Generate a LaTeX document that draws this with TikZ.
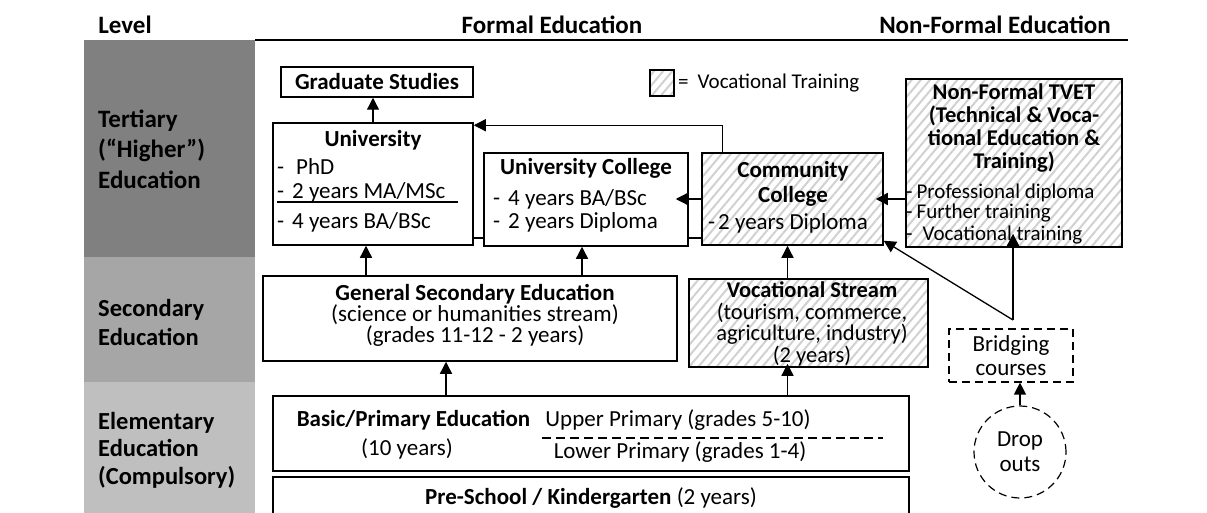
\documentclass[tikz,border=0pt]{standalone}
\usepackage{fontspec}
\setmainfont{Carlito}
\usetikzlibrary{arrows.meta,patterns.meta}

\begin{document}
\begin{tikzpicture}[x=1pt, y=-1pt,
        box/.style={draw, line width=1.5pt, fill=white, inner sep=0pt},
        voc/.style={draw, line width=1.5pt, inner sep=0pt, preaction={fill=white},
            pattern={Lines[angle=50, distance=7pt, line width=2pt]}, pattern color=black!18},
        dbox/.style={draw, line width=1.2pt, dash pattern=on 8pt off 5pt, inner sep=0pt},
        arr/.style={line width=1.3pt, -{Triangle[length=12pt, width=12pt]}},
        con/.style={line width=1.3pt},
        hdr/.style={font=\fontsize{25}{28}\selectfont\bfseries, inner sep=0pt},
        hd/.style={font=\fontsize{23}{25}\selectfont\bfseries, inner sep=0pt, align=center},
        txt/.style={font=\fontsize{23}{25}\selectfont, inner sep=0pt},
        sm/.style={font=\fontsize{21}{22}\selectfont, inner sep=0pt}]

        \useasboundingbox (0,0) rectangle (1207,513);
        \clip (0,0) rectangle (1207,513);

        % Header
        \node[hdr] (level) at (125,25) {Level};
        \node[hdr] (formal) at (552,25) {Formal Education};
        \node[hdr] (nonformal) at (995,25) {Non-Formal Education};
        \draw[line width=1.5pt] (255,40) -- (1128,40);

        % Level column
        \fill[black!50] (84,40) rectangle (255,257);
        \fill[black!35] (84,257) rectangle (255,382);
        \fill[black!25] (84,382) rectangle (255,513);
        \node[anchor=west, align=left, inner sep=0pt, font=\fontsize{25}{30.5}\selectfont\bfseries] (tertiary) at (98,149) {Tertiary\\(“Higher”)\\Education};
        \node[anchor=west, align=left, inner sep=0pt, font=\fontsize{24.5}{29}\selectfont\bfseries] (secondary) at (98,322) {Secondary\\Education};
        \node[anchor=west, align=left, inner sep=0pt, font=\fontsize{24.5}{27.5}\selectfont\bfseries] (elementary) at (98,450) {Elementary\\Education\\(Compulsory)};

        % Legend
        \node[voc, minimum width=24, minimum height=26] (legend) at (662,83) {};
        \node[sm, anchor=west] (legendtext) at (678,83) {=\hspace{9pt}Vocational Training};

        % Tertiary
        \node[box, hd, minimum width=192, minimum height=30] (grad) at (377,82) {Graduate Studies};

        \node[box, minimum width=200, minimum height=122] (univ) at (373,184) {};
        \node[hd] (univhead) at (373,140) {University};
        \node[txt, anchor=west] (phd) at (277,167) {-\hspace{12pt}PhD};
        \node[txt, anchor=west] (ma) at (277,192) {-\hspace{8pt}2 years MA/MSc};
        \node[txt, anchor=west] (ba) at (277,222) {-\hspace{8pt}4 years BA/BSc};
        \draw[line width=1.3pt] (277,202) -- (458,202);

        \node[box, minimum width=204, minimum height=93] (ucol) at (586,199.5) {};
        \node[hd] (ucolhead) at (586,168) {University College};
        \node[txt, anchor=west] (ucolba) at (493,199) {-\hspace{8pt}4 years BA/BSc};
        \node[txt, anchor=west] (ucoldip) at (493,222) {-\hspace{8pt}2 years Diploma};

        \node[voc, minimum width=181, minimum height=92] (cc) at (792.5,199) {};
        \node[hd] (cchead) at (793,183.5) {Community\\College};
        \node[txt] (ccdip) at (788,223) {-\hspace{3pt}2 years Diploma};

        \node[voc, minimum width=216, minimum height=168] (tvet) at (1014,163) {};
        \node[hd, font=\fontsize{22.5}{23}\selectfont\bfseries] (tvethead) at (1014,128.5) {Non-Formal TVET\\(Technical \& Voca-\\tional Education \&\\Training)};
        \node[sm, anchor=west] (prof) at (906,193) {-\hspace{4pt}Professional diploma};
        \node[sm, anchor=west] (further) at (906,213) {-\hspace{4pt}Further training};
        \node[sm, anchor=west] (vtrain) at (906,235) {-\hspace{10pt}Vocational training};

        % Secondary
        \node[box, minimum width=414, minimum height=85] (gse) at (470,318.5) {};
        \node[txt, align=center, font=\fontsize{23}{21}\selectfont] (gsetext) at (475,315) {{\bfseries General Secondary Education}\\(science or humanities stream)\\(grades 11-12 - 2 years)};

        \node[voc, minimum width=239, minimum height=88] (vs) at (808.5,323) {};
        \node[txt, align=center, font=\fontsize{22.5}{21.5}\selectfont] (vstext) at (812,324) {{\bfseries Vocational Stream}\\(tourism, commerce,\\agriculture, industry)\\(2 years)};

        % Elementary
        \node[box, minimum width=636, minimum height=75] (basic) at (591,433.5) {};
        \node[hd] (basichead) at (413.5,420) {Basic/Primary Education};
        \node[txt] (tenyears) at (407,449) {(10 years)};
        \node[txt] (upper) at (678,420) {Upper Primary (grades 5-10)};
        \node[txt] (lower) at (680,452) {Lower Primary (grades 1-4)};
        \draw[line width=1.2pt, dash pattern=on 9pt off 5pt] (542,438) -- (883,438);

        \node[box, minimum width=636, minimum height=70] (preschool) at (591,512) {};
        \node[txt] (pretext) at (591,498) {{\bfseries Pre-School / Kindergarten} (2 years)};

        % Non-formal
        \node[dbox, txt, align=center, font=\fontsize{23}{24}\selectfont, minimum width=124, minimum height=53] (bridge) at (1011,355.5) {Bridging\\courses};
        \node[dbox, txt, circle, align=center, font=\fontsize{23}{25}\selectfont, minimum size=92] (drop) at (1020,452) {Drop\\outs};

        % Connectors
        \coordinate (low) at (0,238);
        \coordinate (a1) at (366,0);
        \coordinate (a2) at (582,0);
        \coordinate (a3) at (787.5,0);
        \coordinate (a4) at (446,0);
        \coordinate (split) at (1013,320);

        \draw[arr] (univ.north) -- (univ.north |- grad.south);
        \draw[arr] ([xshift=21pt]cc.north west) |- ([yshift=-3pt]univ.north east);
        \draw[arr, shorten >=-13pt] (cc.west) -- (cc.west -| ucol.east);
        \draw[arr, shorten >=-8pt] (tvet.west |- cc.east) -- (cc.east);
        \draw[con] (univ.east |- low) -- (ucol.west |- low);
        \draw[con] (ucol.east |- low) -- (cc.west |- low);

        \draw[arr] (gse.north -| a1) -- (univ.south -| a1);
        \draw[arr] (gse.north -| a2) -- (ucol.south -| a2);
        \draw[arr] (vs.north -| a3) -- (cc.south -| a3);
        \draw[arr] (basic.north -| a4) -- (gse.south -| a4);
        \draw[arr, shorten >=-4pt] (basic.north -| a3) -- (vs.south -| a3);

        \draw[arr] (drop.north) -- (drop.north |- bridge.south);
        \draw[arr, shorten >=-14pt] (split) -- (split |- tvet.south);
        \draw[arr] (split) -- ([yshift=5pt]cc.south east);
    \end{tikzpicture}
\end{document}
